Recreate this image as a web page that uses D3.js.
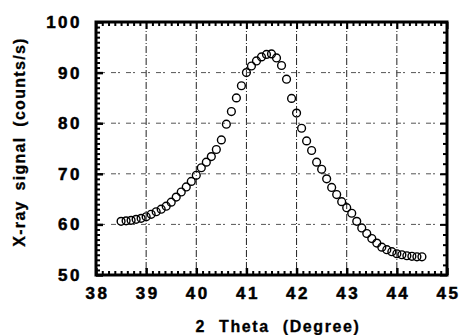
<!DOCTYPE html>
<meta charset="utf-8">
<style>
body { margin: 0; background: #fff; }
.tick text { font-family: "Liberation Sans", Arial, sans-serif; font-weight: bold; font-size: 17px; letter-spacing: 2.5px; fill: #000; stroke: #000; stroke-width: 0.5px; }
.axis-title { font-family: "Liberation Sans", Arial, sans-serif; font-weight: bold; font-size: 16px; fill: #000; stroke: #000; stroke-width: 0.3px; }
</style>
<svg width="460" height="335"></svg>
<script src="https://cdn.jsdelivr.net/npm/d3@7"></script>
<script>
// 2 theta positions (degree) and x-ray signal (counts/s)
var theta = [38.5, 38.6, 38.7, 38.8, 38.9, 39.0, 39.1, 39.2, 39.3, 39.4,
  39.5, 39.6, 39.7, 39.8, 39.9, 40.0, 40.1, 40.2, 40.3, 40.4,
  40.5, 40.6, 40.7, 40.8, 40.9, 41.0, 41.1, 41.2, 41.3, 41.4,
  41.5, 41.6, 41.7, 41.8, 41.9, 42.0, 42.1, 42.2, 42.3, 42.4,
  42.5, 42.6, 42.7, 42.8, 42.9, 43.0, 43.1, 43.2, 43.3, 43.4,
  43.5, 43.6, 43.7, 43.8, 43.9, 44.0, 44.1, 44.2, 44.3, 44.4, 44.5];
var signal = [60.6, 60.7, 60.8, 61.0, 61.2, 61.5, 62.0, 62.5, 63.0, 63.6,
  64.4, 65.4, 66.4, 67.4, 68.5, 69.7, 71.2, 72.3, 73.4, 74.8,
  76.7, 79.8, 82.3, 85.0, 87.4, 90.0, 91.3, 92.3, 93.1, 93.6,
  93.7, 92.9, 91.4, 88.7, 84.9, 82.0, 79.0, 76.5, 74.6, 72.3,
  70.9, 69.0, 67.3, 65.9, 64.5, 63.3, 62.2, 60.6, 59.3, 58.2,
  57.2, 56.3, 55.5, 55.0, 54.6, 54.2, 54.0, 53.8, 53.7, 53.6, 53.6];
var xTicks = [38, 39, 40, 41, 42, 43, 44, 45];
var yTicks = [50, 60, 70, 80, 90, 100];
var xGrid = [39, 40, 41, 42, 43, 44];
var yGrid = [60, 70, 80, 90];

var svg = d3.select("svg");
var pL = 96, pR = 447, pT = 22, pB = 275;

var x = d3.scaleLinear().domain([38, 45]).range([pL, pR]);
var y = d3.scaleLinear().domain([50, 100]).range([pB, pT]);

var xMinor = d3.range(38, 45.001, 0.125).filter(function(d) { return xTicks.indexOf(d) < 0; });
var yMinor = d3.range(50, 100.001, 1).filter(function(d) { return yTicks.indexOf(d) < 0; });

// grid
svg.append("g").selectAll("line").data(xGrid).enter().append("line")
  .attr("x1", d => x(d)).attr("x2", d => x(d))
  .attr("y1", pT).attr("y2", pB)
  .attr("stroke", "#222").attr("stroke-width", 1)
  .attr("stroke-dasharray", "7,2,1,2");
svg.append("g").selectAll("line").data(yGrid).enter().append("line")
  .attr("x1", pL).attr("x2", pR)
  .attr("y1", d => y(d)).attr("y2", d => y(d))
  .attr("stroke", "#555").attr("stroke-width", 1)
  .attr("stroke-dasharray", "5,2,2,6");

// minor ticks
function minor(g, axis) { g.call(axis); g.selectAll("text").remove(); g.select(".domain").remove(); g.selectAll("line").attr("stroke-width", 2); }
svg.append("g").attr("transform", "translate(0," + pB + ")")
  .call(minor, d3.axisBottom(x).tickValues(xMinor).tickSize(-4).tickSizeOuter(0));
svg.append("g").attr("transform", "translate(0," + pT + ")")
  .call(minor, d3.axisTop(x).tickValues(xMinor).tickSize(-4).tickSizeOuter(0));
svg.append("g").attr("transform", "translate(" + pL + ",0)")
  .call(minor, d3.axisLeft(y).tickValues(yMinor).tickSize(-4).tickSizeOuter(0));
svg.append("g").attr("transform", "translate(" + pR + ",0)")
  .call(minor, d3.axisRight(y).tickValues(d3.range(52, 100, 2).filter(d => d % 10)).tickSize(-4).tickSizeOuter(0));

// major ticks + labels
var gx = svg.append("g").attr("transform", "translate(0," + pB + ")")
  .call(d3.axisBottom(x).tickValues(xTicks).tickSize(-7).tickSizeOuter(0).tickPadding(12).tickFormat(d3.format("d")));
gx.select(".domain").remove();
gx.selectAll("line").attr("stroke-width", 2.5);
gx.selectAll("text").attr("dx", "1px");

var gy = svg.append("g").attr("transform", "translate(" + pL + ",0)")
  .call(d3.axisLeft(y).tickValues(yTicks).tickSize(-7).tickSizeOuter(0).tickPadding(14).tickFormat(d3.format("d")));
gy.select(".domain").remove();
gy.selectAll("line").attr("stroke-width", 2.5);

svg.append("g").attr("transform", "translate(0," + pT + ")")
  .call(minor, d3.axisTop(x).tickValues(xTicks).tickSize(-7).tickSizeOuter(0));
svg.append("g").attr("transform", "translate(" + pR + ",0)")
  .call(minor, d3.axisRight(y).tickValues(yTicks).tickSize(-7).tickSizeOuter(0));

// frame
svg.append("rect").attr("x", pL).attr("y", pT)
  .attr("width", pR - pL).attr("height", pB - pT)
  .attr("fill", "none").attr("stroke", "#000").attr("stroke-width", 3);

// data
svg.append("g").selectAll("circle").data(theta).enter().append("circle")
  .attr("cx", d => x(d))
  .attr("cy", (d, i) => y(signal[i]))
  .attr("r", 3.9)
  .attr("fill", "none")
  .attr("stroke", "#000").attr("stroke-width", 1.4);

// titles
svg.append("text").attr("class", "axis-title")
  .attr("x", 278).attr("y", 332)
  .attr("text-anchor", "middle")
  .style("letter-spacing", "1.6px").style("word-spacing", "7px")
  .text("2 Theta (Degree)");
svg.append("text").attr("class", "axis-title")
  .attr("transform", "translate(25,142) rotate(-90)")
  .attr("text-anchor", "middle")
  .style("letter-spacing", "1.3px").style("word-spacing", "4px")
  .text("X-ray signal (counts/s)");
</script>
